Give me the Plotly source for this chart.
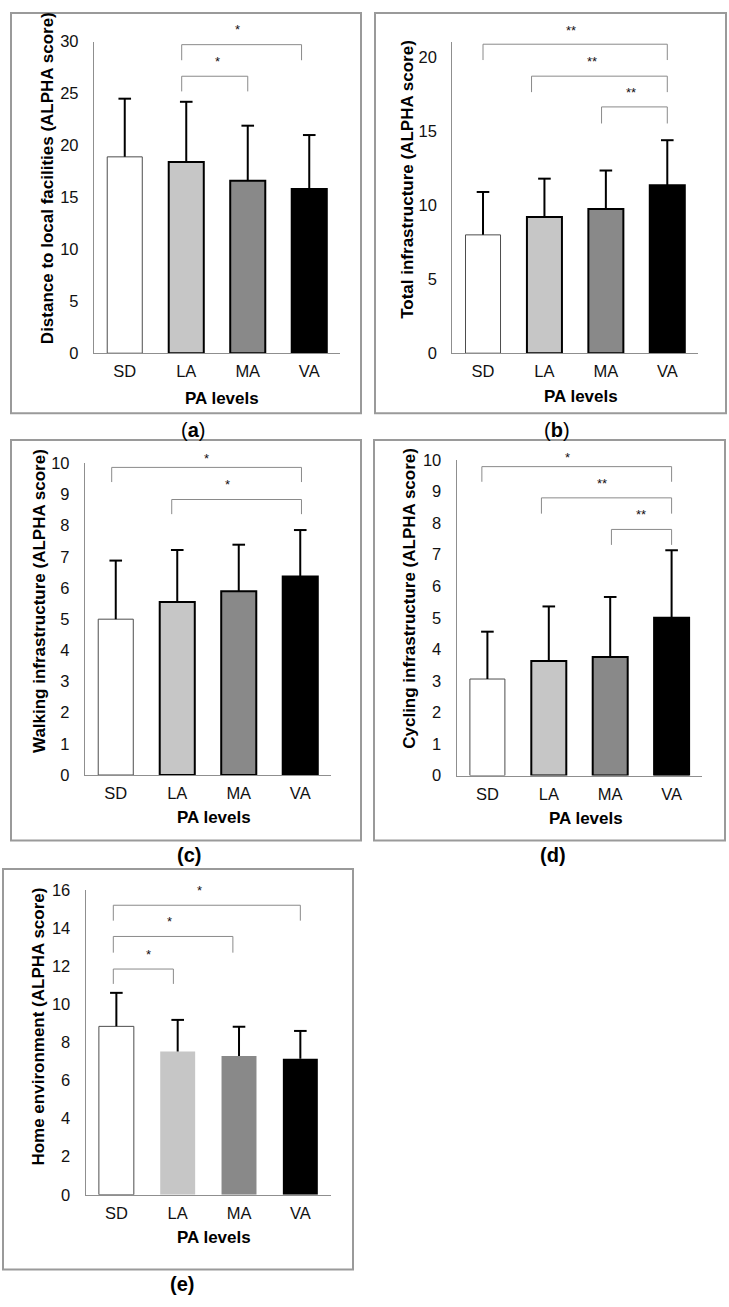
import plotly.graph_objects as go

W, H = 729, 1307

categories = ["SD", "LA", "MA", "VA"]

# means and standard deviations
dist_mean = [18.9, 18.4, 16.6, 15.8]
dist_sd = [5.6, 5.8, 5.3, 5.2]
total_mean = [8.0, 9.2, 9.75, 11.35]
total_sd = [2.9, 2.6, 2.6, 3.05]
walk_mean = [5.0, 5.55, 5.9, 6.37]
walk_sd = [1.88, 1.67, 1.49, 1.49]
cycle_mean = [3.06, 3.63, 3.76, 5.0]
cycle_sd = [1.5, 1.73, 1.9, 2.14]
home_mean = [8.84, 7.52, 7.28, 7.14]
home_sd = [1.76, 1.66, 1.54, 1.46]

y_titles = [
    "Distance to local facilities (ALPHA score)",
    "Total infrastructure (ALPHA score)",
    "Walking infrastructure (ALPHA score)",
    "Cycling infrastructure (ALPHA score)",
    "Home environment (ALPHA score)",
]
x_title = "PA levels"
captions = ["(<b>a</b>)", "(<b>b</b>)", "<b>(c)</b>", "<b>(d)</b>", "<b>(e)</b>"]

# significance brackets: (left x, right x, bracket level, leg end, label, label x, label y)
sig_a = [(0.926, 2.0, 26.66, 25.2, "*", 1.5, 28.5),
         (0.926, 2.875, 29.7, 28.2, "*", 1.83, 31.5)]
sig_b = [(0.0, 3.0, 20.89, 19.82, "**", 1.44, 22.1),
         (0.79, 3.0, 18.73, 17.65, "**", 1.77, 19.98),
         (1.93, 3.0, 16.65, 15.53, "**", 2.41, 17.87)]
sig_c = [(-0.066, 3.02, 9.87, 9.4, "*", 1.48, 10.3),
         (0.91, 3.02, 8.84, 8.37, "*", 1.82, 9.45)]
sig_d = [(-0.09, 3.0, 9.79, 9.31, "*", 1.30, 10.2),
         (0.88, 3.0, 8.8, 8.3, "**", 1.86, 9.39),
         (2.02, 3.0, 7.8, 7.31, "**", 2.5, 8.39)]
sig_e = [(-0.05, 0.93, 11.85, 11.07, "*", 0.53, 12.83),
         (-0.05, 1.9, 13.56, 12.71, "*", 0.86, 14.56),
         (-0.05, 3.0, 15.2, 14.39, "*", 1.35, 16.2)]

# layout (pixels)
panels = [
    dict(mean=dist_mean, sd=dist_sd, sig=sig_a, ymax=30, dtick=5,
         plot=(94, 340, 33, 349), frame=(11, 361, 4, 410),
         ytitle=(47, 171.5), xtitle=(222, 395), cap=(193, 427), outline=True),
    dict(mean=total_mean, sd=total_sd, sig=sig_b, ymax=21.05, dtick=5,
         plot=(452.3, 698, 33.3, 349), frame=(375, 726, 4, 410),
         ytitle=(406.7, 172.5), xtitle=(581, 393), cap=(556.7, 427), outline=True),
    dict(mean=walk_mean, sd=walk_sd, sig=sig_c, ymax=10, dtick=1,
         plot=(85, 331, 460.7, 776.7), frame=(11, 361, 437, 843),
         ytitle=(39.3, 600), xtitle=(214, 820), cap=(189, 858), outline=True),
    dict(mean=cycle_mean, sd=cycle_sd, sig=sig_d, ymax=10, dtick=1,
         plot=(456.7, 702.3, 457.3, 777.3), frame=(374, 725, 437, 843),
         ytitle=(410, 598), xtitle=(585.7, 820.7), cap=(553, 858), outline=True),
    dict(mean=home_mean, sd=home_sd, sig=sig_e, ymax=16, dtick=2,
         plot=(85.7, 331, 893.3, 1202.3), frame=(3, 353, 872, 1278),
         ytitle=(38.3, 1031.5), xtitle=(214, 1246), cap=(181.7, 1293), outline=False),
]

fill_colors = ["#ffffff", "#c6c6c6", "#898989", "#000000"]
FONT = "Liberation Sans, Arial, Helvetica, sans-serif"
AXIS_GRAY = "#8f8f8f"
BRACKET_GRAY = "#8a8a8a"

def px(x):
    return x / W

def py(y):
    return 1 - y / H

fig = go.Figure()
shapes = []
annotations = []

for i, p in enumerate(panels):
    n = "" if i == 0 else str(i + 1)
    xa, ya = "x" + n, "y" + n
    if p["outline"]:
        line_colors = ["#4d4d4d", "#000000", "#000000", "#000000"]
        line_widths = [1, 2, 2, 2]
    else:
        line_colors = ["#4d4d4d", "#c6c6c6", "#898989", "#000000"]
        line_widths = [1, 0, 0, 0]
    fig.add_trace(go.Bar(
        x=categories, y=p["mean"], xaxis=xa, yaxis=ya,
        marker=dict(color=fill_colors, line=dict(color=line_colors, width=line_widths)),
        width=0.57, showlegend=False, hoverinfo="skip",
    ))
    # upper-only error bars: stem from mean to mean+sd, plus a cap
    ex, ey = [], []
    tops = []
    for c, m, s in zip(categories, p["mean"], p["sd"]):
        ex += [c, c, None]
        ey += [m, m + s, None]
        tops.append(m + s)
    fig.add_trace(go.Scatter(
        x=ex, y=ey, xaxis=xa, yaxis=ya, mode="lines",
        line=dict(color="#000000", width=2), showlegend=False, hoverinfo="skip",
    ))
    fig.add_trace(go.Scatter(
        x=categories, y=tops, xaxis=xa, yaxis=ya, mode="markers",
        marker=dict(symbol="line-ew", size=9, line=dict(color="#000000", width=2)),
        showlegend=False, hoverinfo="skip", cliponaxis=False,
    ))
    x0, x1, y0, y1 = p["plot"]
    common = dict(showgrid=False, zeroline=False, showline=True, linecolor=AXIS_GRAY,
                  linewidth=1.3, ticks="outside", tickcolor="rgba(0,0,0,0)",
                  tickfont=dict(family=FONT, size=16.5, color="#111111"), fixedrange=True)
    fig.update_layout(**{
        ("xaxis" + n): dict(domain=[px(x0), px(x1)], anchor=ya, type="category",
                            range=[-0.5, 3.5], ticklen=3, **common),
        ("yaxis" + n): dict(domain=[py(y1), py(y0)], anchor=xa,
                            range=[0, p["ymax"]], tick0=0, dtick=p["dtick"],
                            ticklen=11, **common),
    })
    fx0, fx1, fy0, fy1 = p["frame"]
    shapes.append(dict(type="rect", xref="paper", yref="paper",
                       x0=px(fx0), x1=px(fx1), y0=py(fy1), y1=py(fy0),
                       line=dict(color="#9a9a9a", width=2)))
    for (bl, br, lev, leg, lab, sx, sy) in p["sig"]:
        shapes.append(dict(type="path", xref=xa, yref=ya,
                           path=f"M {bl},{leg} L {bl},{lev} L {br},{lev} L {br},{leg}",
                           line=dict(color=BRACKET_GRAY, width=1)))
        annotations.append(dict(x=sx, y=sy / p["ymax"], xref=xa, yref=ya + " domain",
                                text=lab, showarrow=False,
                                yanchor="middle", yshift=-4,
                                font=dict(family=FONT, size=13, color="#111111")))
    tx, ty = p["ytitle"]
    annotations.append(dict(x=px(tx), y=py(ty), xref="paper", yref="paper",
                            text="<b>" + y_titles[i] + "</b>", textangle=-90,
                            showarrow=False, xanchor="center", yanchor="middle",
                            font=dict(family=FONT, size=17, color="#000000")))
    tx, ty = p["xtitle"]
    annotations.append(dict(x=px(tx), y=py(ty), xref="paper", yref="paper",
                            text="<b>" + x_title + "</b>", showarrow=False,
                            xanchor="center", yanchor="middle",
                            font=dict(family=FONT, size=17, color="#000000")))
    tx, ty = p["cap"]
    annotations.append(dict(x=px(tx), y=py(ty), xref="paper", yref="paper",
                            text=captions[i], showarrow=False,
                            xanchor="center", yanchor="middle",
                            font=dict(family=FONT, size=20, color="#000000")))

fig.update_layout(
    width=W, height=H, margin=dict(l=0, r=0, t=0, b=0),
    paper_bgcolor="white", plot_bgcolor="white",
    shapes=shapes, annotations=annotations, bargap=0.43,
)

fig.write_html("out.html", config={"displayModeBar": False},
               post_script="document.body.style.margin='0';document.body.style.padding='0';"
                           "document.body.style.overflow='hidden';")
